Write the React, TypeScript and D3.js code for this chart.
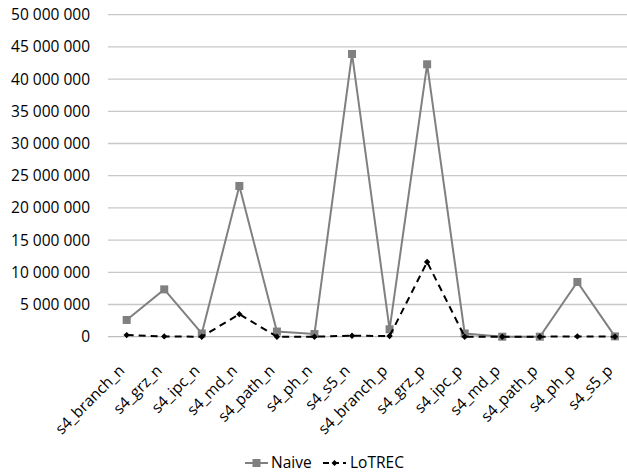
import React from "react";
import * as d3 from "d3";

const categories = [
  "s4_branch_n", "s4_grz_n", "s4_ipc_n", "s4_md_n", "s4_path_n", "s4_ph_n", "s4_s5_n",
  "s4_branch_p", "s4_grz_p", "s4_ipc_p", "s4_md_p", "s4_path_p", "s4_ph_p", "s4_s5_p",
];
const naive = [2600000, 7350000, 500000, 23400000, 800000, 420000, 43900000, 1150000, 42300000, 500000, 0, 0, 8500000, 50000];
const lotrec = [250000, 50000, 0, 3500000, 0, 0, 150000, 100000, 11600000, 0, 0, 0, 50000, 0];
const yTicks = [0, 5000000, 10000000, 15000000, 20000000, 25000000, 30000000, 35000000, 40000000, 45000000, 50000000];

const W = 627, H = 476;
const left = 107.9, right = 633.7, top = 14.7, bottom = 336.7;
const FONT = "'Open Sans', sans-serif";
const FS = 15.5;

export default function App() {
  const x = d3.scaleBand<string>().domain(categories).range([left, right]);
  const y = d3.scaleLinear().domain([0, 50000000]).range([bottom, top]);
  const cx = (c: string) => (x(c) as number) + x.bandwidth() / 2;
  const fmt = (v: number) => d3.format(",")(v).replace(/,/g, " ");
  const line = d3.line<number>().x((_, i) => cx(categories[i])).y((d) => y(d));

  return (
    <svg width={W} height={H} style={{ position: "absolute", left: 0, top: 0, background: "#fff" }} fontFamily={FONT}>
      {yTicks.map((t) => (
        <g key={t}>
          <line x1={108} x2={627} y1={y(t)} y2={y(t)} stroke={t === 0 ? "#bdbdbd" : "#c8c8c8"} strokeWidth={1.3} />
          <text x={90} y={y(t)} dy="0.35em" textAnchor="end" fontSize={FS} fill="#000">{fmt(t)}</text>
        </g>
      ))}
      {categories.map((c) => (
        <text key={c} transform={`translate(${cx(c) - 5},${bottom + 31}) rotate(-45)`} textAnchor="end" dy="0.35em" fontSize={FS} fill="#000">{c}</text>
      ))}
      <path d={line(naive) || ""} fill="none" stroke="#808080" strokeWidth={2} />
      {naive.map((v, i) => (
        <rect key={i} x={cx(categories[i]) - 4} y={y(v) - 4} width={8} height={8} fill="#808080" />
      ))}
      <path d={line(lotrec) || ""} fill="none" stroke="#000" strokeWidth={2} strokeDasharray="7,5" />
      {lotrec.map((v, i) => (
        <path key={i} d={`M${cx(categories[i])},${y(v) - 3.2}L${cx(categories[i]) + 3.2},${y(v)}L${cx(categories[i])},${y(v) + 3.2}L${cx(categories[i]) - 3.2},${y(v)}Z`} fill="#000" />
      ))}
      <g>
        <line x1={245} x2={268} y1={463} y2={463} stroke="#808080" strokeWidth={2} />
        <rect x={252.5} y={459} width={8} height={8} fill="#808080" />
        <text x={271} y={463} dy="0.35em" fontSize={FS}>Naive</text>
        <line x1={323} x2={346} y1={463} y2={463} stroke="#000" strokeWidth={2} strokeDasharray="6,4" />
        <path d="M334.5,460L337.5,463L334.5,466L331.5,463Z" fill="#000" />
        <text x={350} y={463} dy="0.35em" fontSize={FS}>LoTREC</text>
      </g>
    </svg>
  );
}
